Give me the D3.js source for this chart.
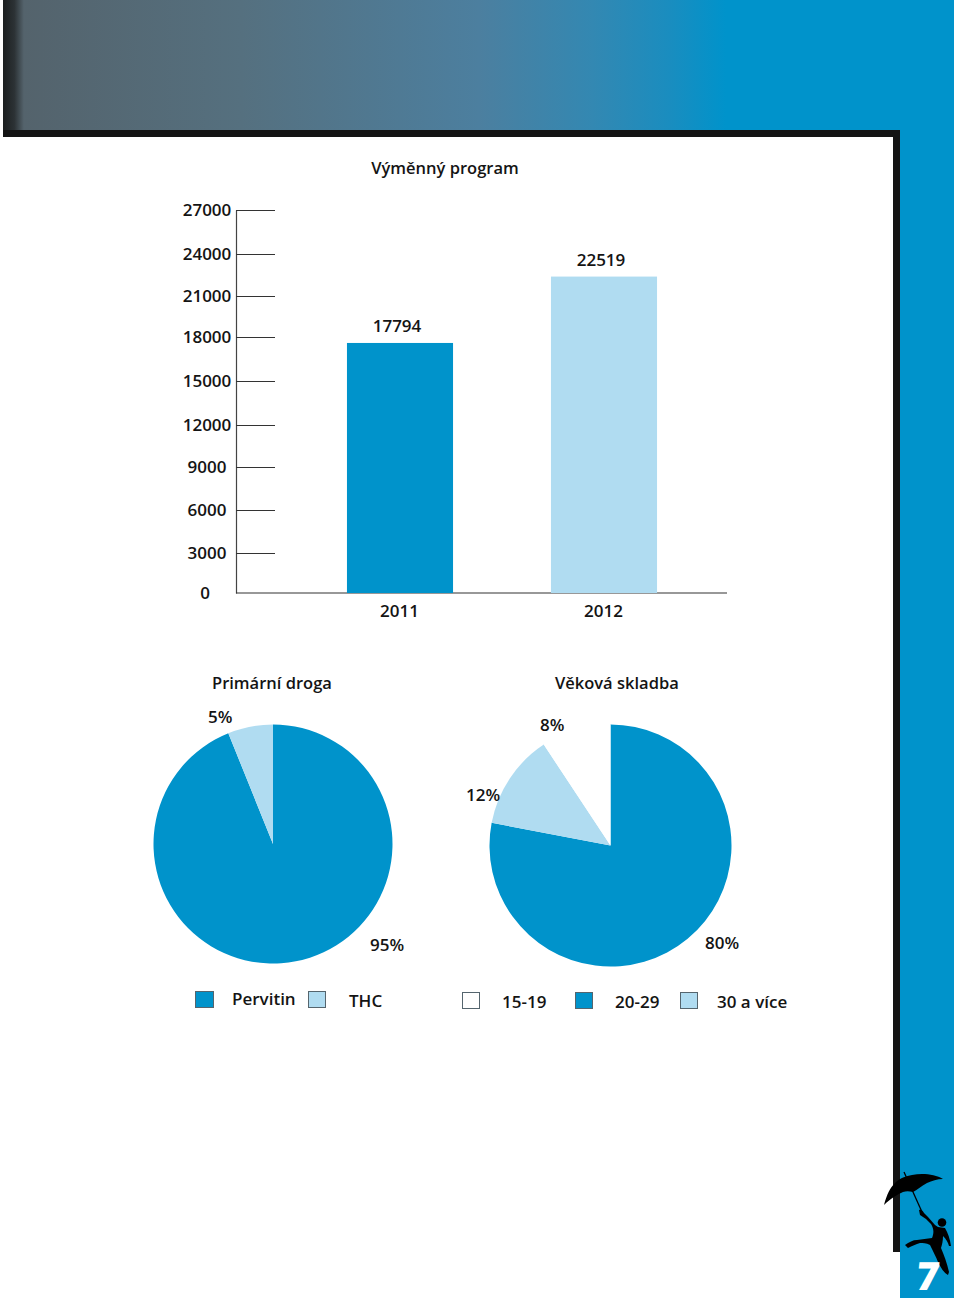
<!DOCTYPE html>
<html><head><meta charset="utf-8">
<script src="https://cdn.jsdelivr.net/npm/d3@7/dist/d3.min.js"></script>
<style>
html,body{margin:0;padding:0;background:#fff}
svg{display:block}
text{font-family:"Open Sans","Noto Sans",sans-serif;font-size:17px;font-weight:600;fill:#141414}
text.head{font-size:16.5px}
</style></head><body>
<div id="chart"></div>
<script>
const axisTicks=[0,3000,6000,9000,12000,15000,18000,21000,24000,27000];
const years=["2011","2012"];
const programValues=[17794,22519];
const barColors=["#0093cb","#b0dcf1"];
const drugLabels=["Pervitin","THC"];
const drugShares=[93.9,6.1];
const drugPercent=["95%","5%"];
const ageLabels=["20-29","30 a více","15-19"];
const ageShares=[78,12.7,9.3];
const agePercent=["80%","12%","8%"];
const BLUE="#0093cb",LIGHT="#b0dcf1",INK="#141414";

const svg=d3.select("#chart").append("svg").attr("width",960).attr("height",1302);
const defs=svg.append("defs");
const grad=defs.append("linearGradient").attr("id","hdr");
[[0,"#1c1f20"],[0.012,"#2c3235"],[0.022,"#54636c"],[0.25,"#55707f"],[0.5,"#4c7f9f"],[0.62,"#3388b2"],[0.7,"#1a8dbf"],[0.76,BLUE],[1,BLUE]]
 .forEach(s=>grad.append("stop").attr("offset",s[0]).attr("stop-color",s[1]));

// page frame
svg.append("rect").attr("x",3).attr("y",0).attr("width",951).attr("height",131).attr("fill","url(#hdr)");
svg.append("rect").attr("x",900).attr("y",0).attr("width",54).attr("height",1298).attr("fill",BLUE);
svg.append("rect").attr("x",3).attr("y",130).attr("width",897).attr("height",7).attr("fill",INK);
svg.append("rect").attr("x",893).attr("y",130).attr("width",7).attr("height",1122).attr("fill",INK);

// bar chart
const y=d3.scaleLinear().domain(axisTicks).range([593,553,510,467,425,381,337,296,254,210]);
const yBar=d3.scaleLinear().domain([0,27000]).range([593,213.6]);
const x=d3.scaleBand().domain(years).range([298,706]).paddingInner(0.48).paddingOuter(0.24);
const cx=d=>x(d)+x.bandwidth()/2;
svg.append("text").attr("class","head").attr("x",445).attr("y",174).attr("text-anchor","middle").text("Výměnný program");

const axis=d3.axisRight(y).tickValues(axisTicks).tickSize(39).tickSizeOuter(0).tickFormat("");
const gA=svg.append("g").attr("transform","translate(236,0)").call(axis);
gA.select(".domain").attr("stroke","#444").attr("stroke-width",1.2);
gA.selectAll(".tick line").attr("stroke","#333").attr("stroke-width",1.1);
gA.selectAll(".tick").filter(d=>d===0).select("line").remove();
svg.append("line").attr("x1",236).attr("x2",727).attr("y1",y(0)).attr("y2",y(0)).attr("stroke","#333").attr("stroke-width",1.1);
svg.selectAll(".ylab").data(axisTicks).join("text").attr("class","ylab")
 .attr("x",d=>d===0?205:207).attr("y",d=>y(d)+6).attr("text-anchor","middle").text(d=>d);

svg.selectAll(".bar").data(programValues).join("rect").attr("class","bar")
 .attr("x",(d,i)=>x(years[i])).attr("width",x.bandwidth())
 .attr("y",d=>yBar(d)).attr("height",d=>yBar(0)-yBar(d)).attr("fill",(d,i)=>barColors[i]);
svg.selectAll(".val").data(programValues).join("text").attr("class","val")
 .attr("x",(d,i)=>cx(years[i])-3).attr("y",d=>yBar(d)-11).attr("text-anchor","middle").text(d=>d);
svg.selectAll(".yr").data(years).join("text").attr("class","yr")
 .attr("x",d=>cx(d)-0.5).attr("y",617).attr("text-anchor","middle").text(d=>d);

// pies
function pie(cxp,cyp,r,shares,colors){
  const arcs=d3.pie().sort(null)(shares);
  const arc=d3.arc().innerRadius(0).outerRadius(r);
  const g=svg.append("g").attr("transform",`translate(${cxp},${cyp})`);
  g.selectAll("path").data(arcs).join("path").attr("d",arc).attr("fill",(d,i)=>colors[i]);
}
pie(273,844,119.5,drugShares,[BLUE,LIGHT]);
pie(610.5,845.5,121,ageShares,[BLUE,LIGHT,"#fff"]);
const txt=(t,px,py,c)=>svg.append("text").attr("class",c||null).attr("x",px).attr("y",py).text(t);
txt("Primární droga",212,689,"head");
txt("Věková skladba",555,689,"head");
txt(drugPercent[1],208,723);
txt(drugPercent[0],370,951);
txt(agePercent[2],540,731);
txt(agePercent[1],466,801);
txt(agePercent[0],705,949);

// legends
const legend=[
 [195,991,19,BLUE,drugLabels[0],232,1005],
 [308,991,18,LIGHT,drugLabels[1],349,1007],
 [462,992,18,"#fff",ageLabels[2],502,1008],
 [575,992,18,BLUE,ageLabels[0],615,1008],
 [680,992,18,LIGHT,ageLabels[1],717,1008]];
legend.forEach(l=>{
  svg.append("rect").attr("x",l[0]+.5).attr("y",l[1]+.5).attr("width",l[2]-1).attr("height",16)
   .attr("fill",l[3]).attr("stroke","#55656e").attr("stroke-width",1);
  txt(l[4],l[5],l[6]);
});

// page mark: umbrella, figure, number
const mark=svg.append("g").attr("fill","#000");
mark.append("path").attr("d","M884 1205 C887 1194 890 1188 895 1183 C900 1178 906 1176 912 1175 C922 1173 935 1174 943 1179 C937 1179 932 1181 927 1183 C921 1186 917 1190 913 1192 C909 1191 906 1191 903 1192 C898 1194 890 1199 884 1205Z");
mark.append("path").attr("d","M904 1172 L922 1212").attr("stroke","#000").attr("stroke-width",1.3).attr("fill","none");
mark.append("path").attr("d","M919 1210 C921 1209 923 1211 924 1213 L928 1217 L935 1225 L938 1227 L945 1228 C948 1233 950 1239 951 1246 L949 1246 C948 1242 946 1239 943 1236 C943 1241 942 1245 941 1248 C944 1255 947 1263 949 1272 L948 1275 C944 1273 941 1268 938 1262 C936 1257 933 1251 930 1245 C926 1243 923 1243 920 1243 C916 1244 912 1246 908 1248 L905 1245 C909 1242 913 1240 917 1240 L932 1238 C934 1233 934 1229 931 1224 L926 1219 L920 1215Z");
mark.append("circle").attr("cx",942).attr("cy",1222.5).attr("r",4.3);
svg.append("text").attr("x",928).attr("y",1290).attr("text-anchor","middle").attr("transform","translate(928 1276) skewX(-6) translate(-928 -1276)")
 .style("font-size","39px").style("font-weight","800").style("fill","#fff").text("7");
</script>
</body></html>
